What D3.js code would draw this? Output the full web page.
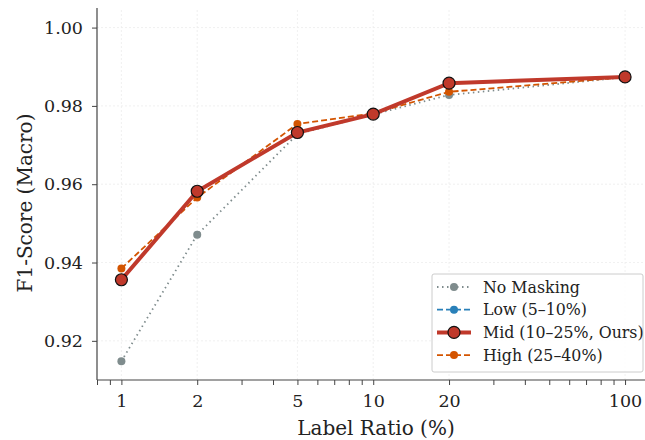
<!DOCTYPE html>
<html>
<head>
<meta charset="utf-8">
<script src="https://cdn.jsdelivr.net/npm/d3@7"></script>
<style>
  body { margin: 0; background: #fff; }
  svg { font-family: "DejaVu Serif", serif; }
</style>
</head>
<body>
<div id="chart"></div>
<script>
// data
const ratios = [1, 2, 5, 10, 20, 100];
const noMasking = [0.9148, 0.9471, 0.9728, 0.9778, 0.9828, 0.9873];
const low = [0.9356, 0.9582, 0.9732, 0.9779, 0.9858, 0.9874];
const mid = [0.9356, 0.9582, 0.9732, 0.9779, 0.9858, 0.9874];
const high = [0.9385, 0.9566, 0.9754, 0.9781, 0.9836, 0.9873];
const xTickLabels = [1, 2, 5, 10, 20, 100];
const xMinorTicks = [0.8, 0.9, 3, 4, 6, 7, 8, 9, 30, 40, 50, 60, 70, 80, 90];
const yTicks = [0.92, 0.94, 0.96, 0.98, 1.00];
const seriesNames = ["No Masking", "Low (5\u201310%)", "Mid (10\u201325%, Ours)", "High (25\u201340%)"];

const width = 645, height = 440;
const margin = {top: 8, right: 0, bottom: 60, left: 97};

const svg = d3.select('#chart').append('svg')
  .attr('width', width)
  .attr('height', height);

const x = d3.scaleLog().domain([0.8, 120]).range([margin.left, width - margin.right]);
const y = d3.scaleLinear().domain([0.91, 1.005]).range([height - margin.bottom, margin.top]);

// faint grid
const grid = svg.append('g').attr('stroke', '#ececec').attr('stroke-width', 0.8).attr('stroke-dasharray', '2,2');
xTickLabels.forEach(t => {
  grid.append('line').attr('x1', x(t)).attr('x2', x(t)).attr('y1', y.range()[0]).attr('y2', y.range()[1]);
});
yTicks.forEach(t => {
  grid.append('line').attr('x1', x.range()[0]).attr('x2', x.range()[1]).attr('y1', y(t)).attr('y2', y(t));
});

// axes
const xAxis = svg.append('g')
  .attr('transform', `translate(0,${height - margin.bottom})`)
  .call(d3.axisBottom(x).tickValues(xTickLabels).tickFormat(d3.format('d')).tickSize(5).tickPadding(9.5));
svg.append('g')
  .attr('transform', `translate(0,${height - margin.bottom})`)
  .call(d3.axisBottom(x).tickValues(xMinorTicks).tickFormat('').tickSize(5))
  .call(g => g.select('.domain').remove());

const yAxis = svg.append('g')
  .attr('transform', `translate(${margin.left},0)`)
  .call(d3.axisLeft(y).tickValues(yTicks).tickFormat(d3.format('.2f')).tickSize(5).tickPadding(9));

svg.selectAll('.domain').attr('stroke', '#444').attr('stroke-width', 1.2);
svg.selectAll('.tick line').attr('stroke', '#444').attr('stroke-width', 1);
svg.selectAll('.tick text').attr('font-size', 17.5).attr('fill', '#222').attr('font-family', '"DejaVu Serif", serif');
xAxis.selectAll('.domain').attr('d', `M${x.range()[0]},0H${x.range()[1]}`);
yAxis.selectAll('.domain').attr('d', `M0,${y.range()[0]}V${y.range()[1]}`);

// axis labels
svg.append('text')
  .attr('x', 376).attr('y', 435)
  .attr('text-anchor', 'middle')
  .attr('font-size', 20).attr('fill', '#222')
  .text('Label Ratio (%)');
svg.append('text')
  .attr('transform', `translate(32,203) rotate(-90)`)
  .attr('text-anchor', 'middle')
  .attr('font-size', 20).attr('fill', '#222')
  .text('F1-Score (Macro)');

// series
const series = [
  {name: seriesNames[0], values: noMasking, color: '#7f8c8d', width: 1.8, dash: '1.5,3.5', r: 4, stroke: 'none'},
  {name: seriesNames[1], values: low, color: '#2980b9', width: 1.8, dash: '6,3', r: 4, stroke: 'none'},
  {name: seriesNames[3], values: high, color: '#d35400', width: 1.8, dash: '6,3', r: 4, stroke: 'none'},
  {name: seriesNames[2], values: mid, color: '#c0392b', width: 4, dash: null, r: 6, stroke: '#111'}
];

const line = d3.line().x(d => x(d[0])).y(d => y(d[1]));

series.forEach(s => {
  const pts = ratios.map((r, i) => [r, s.values[i]]);
  svg.append('path')
    .datum(pts)
    .attr('d', line)
    .attr('fill', 'none')
    .attr('stroke', s.color)
    .attr('stroke-width', s.width)
    .attr('stroke-dasharray', s.dash);
  svg.append('g').selectAll('circle')
    .data(pts).join('circle')
    .attr('cx', d => x(d[0])).attr('cy', d => y(d[1]))
    .attr('r', s.r)
    .attr('fill', s.color)
    .attr('stroke', s.stroke)
    .attr('stroke-width', 1.2);
});

// legend
const legendOrder = [series[0], series[1], series[3], series[2]];
const lg = svg.append('g').attr('transform', 'translate(432,274)');
lg.append('rect')
  .attr('width', 211).attr('height', 98)
  .attr('rx', 2)
  .attr('fill', '#fff').attr('fill-opacity', 0.85)
  .attr('stroke', '#ccc').attr('stroke-width', 1);
legendOrder.forEach((s, i) => {
  const yy = 13 + i * 22.7;
  lg.append('line')
    .attr('x1', 5).attr('x2', 39).attr('y1', yy).attr('y2', yy)
    .attr('stroke', s.color).attr('stroke-width', s.width)
    .attr('stroke-dasharray', s.dash);
  lg.append('circle')
    .attr('cx', 22).attr('cy', yy).attr('r', s.r)
    .attr('fill', s.color).attr('stroke', s.stroke).attr('stroke-width', 1.2);
  lg.append('text')
    .attr('x', 51).attr('y', yy + 5.5)
    .attr('font-size', 15.8).attr('fill', '#222')
    .text(s.name);
});
</script>
</body>
</html>
